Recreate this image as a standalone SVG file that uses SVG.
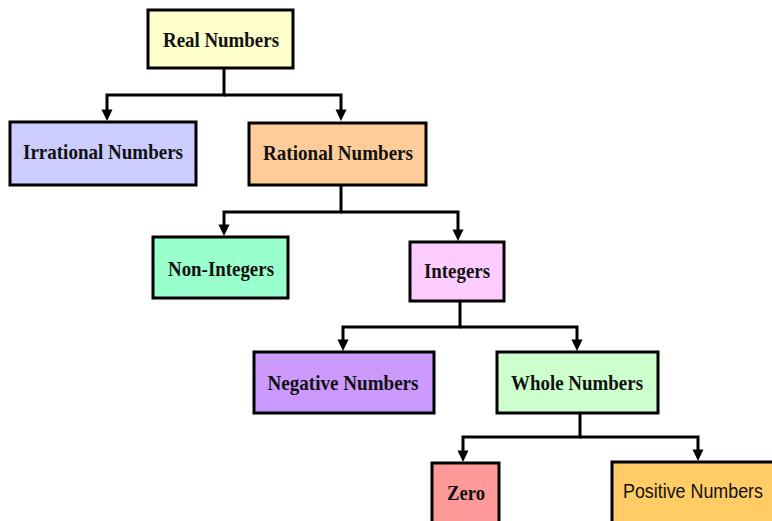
<svg xmlns="http://www.w3.org/2000/svg" width="772" height="521" viewBox="0 0 772 521">
<defs>
<style>
.box{stroke:#000;stroke-width:3}
.t{font-family:"Liberation Serif","Times New Roman",serif;font-weight:bold;font-size:22px;fill:#111;text-anchor:middle}
.s{font-family:"Liberation Sans",Arial,sans-serif;font-size:20px;fill:#111;text-anchor:middle}
.c{fill:none;stroke:#000;stroke-width:3;marker-end:url(#ah)}
</style>
<marker id="ah" markerUnits="userSpaceOnUse" markerWidth="12" markerHeight="12" viewBox="0 0 12 12" refX="6" refY="0" orient="0" overflow="visible">
<path d="M0.5,-0.5 L11.5,-0.5 L6,11 Z" fill="#000"/>
</marker>
</defs>
<rect width="772" height="521" fill="#fff"/>
<g id="connectors">
<path class="c" d="M224,69 V95 H107 V110"/>
<path class="c" d="M224,95 H341 V110"/>
<path class="c" d="M341,186 V212 H224 V225"/>
<path class="c" d="M341,212 H458 V230"/>
<path class="c" d="M460,301 V327 H343 V340"/>
<path class="c" d="M460,327 H577 V340"/>
<path class="c" d="M580,413 V437 H463 V451"/>
<path class="c" d="M580,437 H698 V450"/>
</g>
<g id="real"><rect class="box" x="148" y="10" width="145" height="58" fill="#FFFFCC"/><text class="t" x="221" y="47" textLength="116" lengthAdjust="spacingAndGlyphs">Real Numbers</text></g>
<g id="irrational"><rect class="box" x="10" y="122" width="186" height="63" fill="#CCCCFF"/><text class="t" x="103" y="159" textLength="160" lengthAdjust="spacingAndGlyphs">Irrational Numbers</text></g>
<g id="rational"><rect class="box" x="249" y="123" width="177" height="62" fill="#FFCC99"/><text class="t" x="338" y="160" textLength="150" lengthAdjust="spacingAndGlyphs">Rational Numbers</text></g>
<g id="noninteger"><rect class="box" x="153" y="237" width="135" height="61" fill="#99FFCC"/><text class="t" x="221" y="276" textLength="106" lengthAdjust="spacingAndGlyphs">Non-Integers</text></g>
<g id="integers"><rect class="box" x="410" y="242" width="94" height="59" fill="#FFCCFF"/><text class="t" x="457" y="278" textLength="66" lengthAdjust="spacingAndGlyphs">Integers</text></g>
<g id="negative"><rect class="box" x="254" y="352" width="180" height="61" fill="#CC99FF"/><text class="t" x="343" y="390" textLength="151" lengthAdjust="spacingAndGlyphs">Negative Numbers</text></g>
<g id="whole"><rect class="box" x="497" y="352" width="161" height="61" fill="#CCFFCC"/><text class="t" x="577" y="390" textLength="132" lengthAdjust="spacingAndGlyphs">Whole Numbers</text></g>
<g id="zero"><rect class="box" x="432" y="463" width="67" height="70" fill="#FF9999"/><text class="t" x="466" y="500" textLength="38" lengthAdjust="spacingAndGlyphs">Zero</text></g>
<g id="positive"><rect class="box" x="612" y="462" width="170" height="70" fill="#FFCC66"/><text class="s" x="693" y="498" textLength="140" lengthAdjust="spacingAndGlyphs">Positive Numbers</text></g>
</svg>
